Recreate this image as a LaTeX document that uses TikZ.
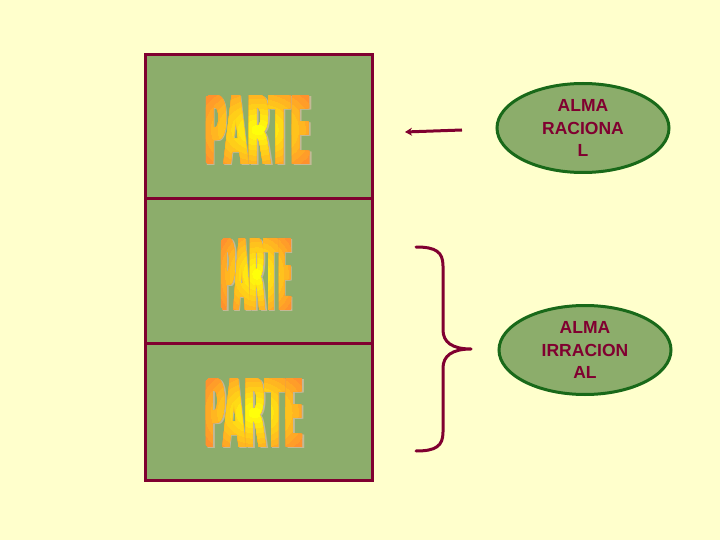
\documentclass[tikz,border=0pt]{standalone}
\usepackage{fontspec}
\setmainfont{Liberation Sans}
\newfontfamily\wordfont{DejaVu Sans}
\usetikzlibrary{shapes.geometric,arrows.meta}
\definecolor{bg}{RGB}{255,255,204}
\definecolor{boxgreen}{RGB}{140,173,107}
\definecolor{maroon}{RGB}{128,0,48}
\definecolor{dkgreen}{RGB}{25,105,25}
\definecolor{wordorange}{RGB}{255,145,45}
\definecolor{wordyellow}{RGB}{255,255,10}
\definecolor{shadowc}{RGB}{195,185,150}
\newcommand{\partword}[2]{\resizebox{#1pt}{#2pt}{\wordfont\bfseries PARTE}}
% #1 name, #2 x, #3 y, #4 width, #5 height
\newcommand{\gradword}[5]{%
  \pgfmathsetmacro{\ww}{#4-2}
  \foreach \dx in {-1,0,1}{%
    \node[shadowtxt] (#1s) at (#2+1.5+\dx,#3+1.5) {\partword{\ww}{#5}};
  }
  \foreach \i in {0,...,9}{%
    \pgfmathsetmacro{\pct}{\i*100/9}
    \pgfmathsetmacro{\rx}{#4*0.62*(1-\i/10)}
    \pgfmathsetmacro{\ry}{#5*0.75*(1-\i/10)}
    \begin{scope}
      \clip (#2,#3) ellipse [x radius=\rx pt, y radius=\ry pt];
      \foreach \dx in {-1,0,1}{%
        \node[text=wordyellow!\pct!wordorange,inner sep=0pt] (#1\i) at (#2+\dx,#3) {\partword{\ww}{#5}};
      }
    \end{scope}
  }%
}
\begin{document}
\begin{tikzpicture}[x=1pt,y=-1pt,
  partbox/.style={draw=maroon,line width=3pt,fill=boxgreen,minimum width=227pt,inner sep=0pt,anchor=north west},
  alma/.style={ellipse,draw=dkgreen,line width=3pt,fill=boxgreen,minimum width=172pt,minimum height=89pt,
     text=maroon,align=center,font=\bfseries\fontsize{17.5}{22.5}\selectfont,inner sep=0pt},
  link/.style={draw=maroon,line width=3pt},
  shadowtxt/.style={text=shadowc,inner sep=0pt}]
\fill[bg] (0,0) rectangle (720,540);
\useasboundingbox (0,0) rectangle (720,540);
% boxes
\node[partbox,minimum height=144pt] (box1) at (144,53) {};
\node[partbox,minimum height=145pt] (box2) at (144,197) {};
\node[partbox,minimum height=137pt] (box3) at (144,342) {};
% PARTE words
\gradword{wa}{258}{129.5}{109}{69}
\gradword{wb}{256.5}{274}{73}{72}
\gradword{wc}{254.5}{412.5}{101}{69}
% ellipses
\node[alma] (racional) at (583,128) {ALMA\\RACIONA\\L};
\node[alma] (irracional) at (585,350) {ALMA\\IRRACION\\AL};
% arrow
\coordinate (astart) at (462,130);
\coordinate (aend) at (405,132);
\draw[link,-{Stealth[length=7pt,width=8pt]}] (astart) -- (aend);
% brace
\coordinate (btop) at (416,247);
\coordinate (btip) at (471,349);
\coordinate (bbot) at (416,451);
\draw[link,line cap=round,line join=round] (btop) .. controls (436,247) and (443,252) .. (443,266)
  -- (443,330) .. controls (443,342) and (452,349) .. (btip)
  .. controls (452,349) and (443,356) .. (443,368)
  -- (443,432) .. controls (443,446) and (436,451) .. (bbot);
\end{tikzpicture}
\end{document}
